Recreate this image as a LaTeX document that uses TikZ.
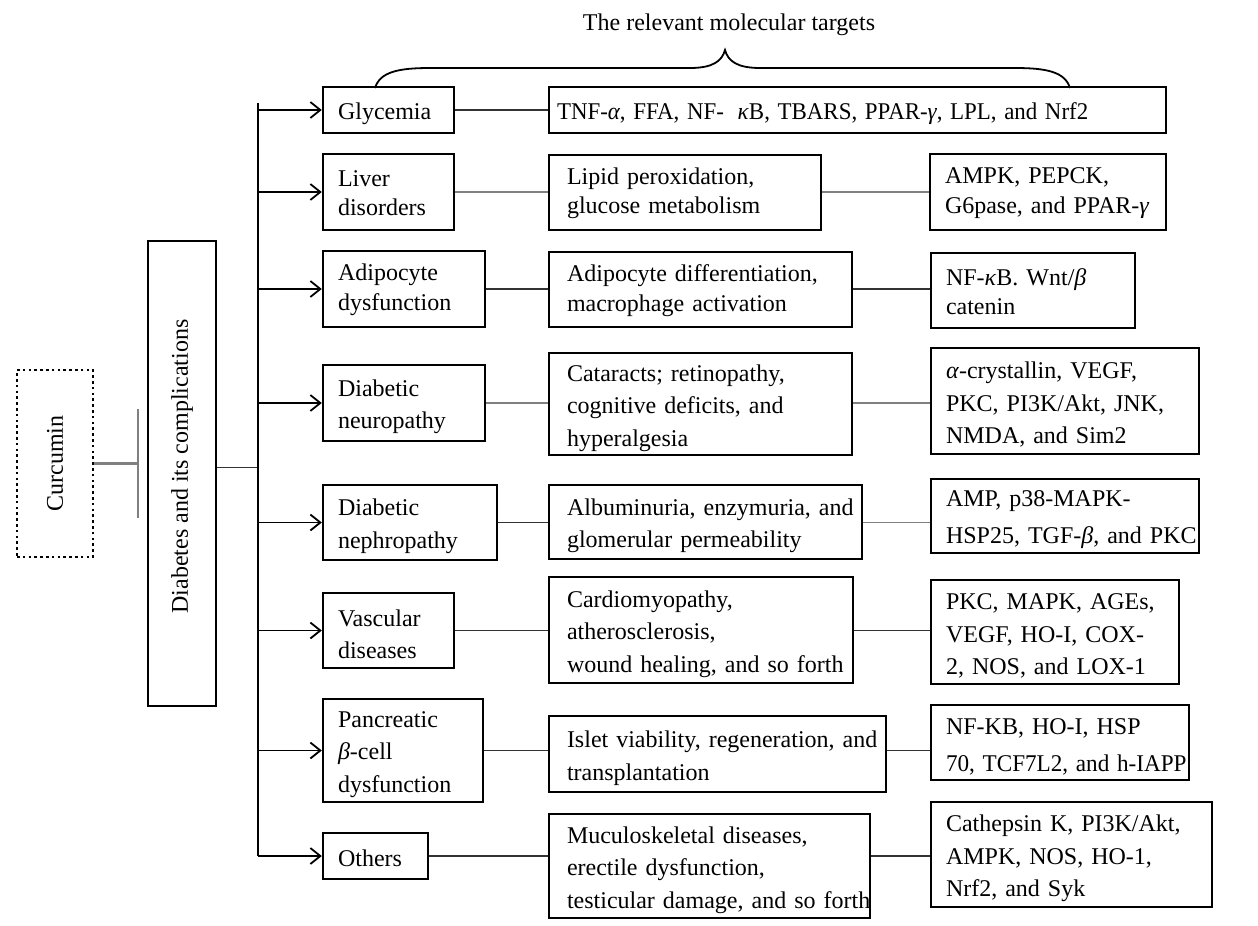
\documentclass[tikz,border=0pt]{standalone}
\usepackage{fontspec}
\setmainfont{Liberation Serif}
\usetikzlibrary{arrows.meta}
\newcommand\myl[1]{\mbox{#1}}
\newcommand\gk[1]{\textit{#1}}
\def\mydy{-2pt}
\newcommand\mybox[7]{%
  \pgfmathsetmacro\mybw{(#4-#2)*0.5}%
  \pgfmathsetmacro\mybh{(#5-#3)*0.5}%
  \pgfmathsetmacro\mytw{\mybw-2*#6}%
  \node[boxframe, minimum width=\mybw pt, minimum height=\mybh pt] (#1) at ({(#2+#4)/2},{(#3+#5)/2}) {};
  \node[boxtext, inner xsep=#6pt, text width=\mytw pt] (#1-t) at ([yshift=\mydy]#1.center) {#7};}
\begin{document}
\begin{tikzpicture}[x=0.5pt,y=-0.5pt,
  boxframe/.style={draw=black, line width=1.2pt, inner sep=0pt},
  boxtext/.style={align=left, inner ysep=0pt, font=\fontsize{12}{16.25}\selectfont},
  link/.style={line width=0.8pt, draw=black!80},
  glink/.style={line width=0.9pt, draw=black!50},
  arr/.style={line width=0.9pt, -{Straight Barb[length=5pt,width=8pt,line width=0.9pt]}},
]
\useasboundingbox (0,0) rectangle (1258,926);

% title and brace
\node[font=\fontsize{12}{14}\selectfont] (title) at (729,25) {The relevant molecular targets};
\draw[line width=0.9pt] (375,88) .. controls (380,72) and (398,68) .. (430,68) -- (690,68)
  .. controls (713,68) and (722,61) .. (725,50) .. controls (728,61) and (737,68) .. (760,68)
  -- (1015,68) .. controls (1047,68) and (1065,72) .. (1070,88);

% left part
\node[draw=black, line width=1.1pt, dash pattern=on 1.3pt off 1.6pt, minimum width=38pt, minimum height=93.5pt, inner sep=0pt, font=\fontsize{12}{14}\selectfont] (cur) at (55,463.5) {\rotatebox{90}{Curcumin}};
\node[draw=black, line width=1.2pt, minimum width=34pt, minimum height=232.5pt, inner sep=0pt, font=\fontsize{12}{14}\selectfont] (dia) at (182,473.5) {\rotatebox{90}{\hspace*{7pt}Diabetes and its complications}};
\draw[line width=1.1pt, draw=black!50, -{Bar[width=54.5pt]}] (cur.east) -- ++(45,0);
\coordinate (tk) at (258,0);

% column 1
\mybox{g1}{323}{87}{454}{133}{7.5}{\myl{Glycemia}}
\def\mydy{-0.5pt}
\mybox{l1}{323}{154}{454}{230}{7.5}{\myl{Liver}\\[-1.5pt]\myl{disorders}}
\mybox{a1}{323}{251}{485}{327}{7.5}{\myl{Adipocyte}\\[-1.5pt]\myl{dysfunction}}
\def\mydy{-2pt}
\mybox{n1}{323}{365}{485}{441}{7.5}{\myl{Diabetic}\\\myl{neuropathy}}
\mybox{p1}{323}{485}{497}{560}{7.5}{\myl{Diabetic}\\\myl{nephropathy}}
\mybox{v1}{323}{593}{454}{668}{7.5}{\myl{Vascular}\\\myl{diseases}}
\mybox{b1}{323}{699}{483}{802}{7.5}{\myl{Pancreatic}\\\myl{\gk{β}-cell}\\\myl{dysfunction}}
\def\mydy{-1pt}
\mybox{o1}{323}{833}{428}{879}{7.5}{\myl{Others}}
\def\mydy{-2pt}

% column 2
\mybox{g2}{549}{87}{1166}{133}{4}{\myl{\scalebox{0.955}[1]{TNF-\gk{α}, FFA, NF-\hspace{0.6em}\gk{κ}B, TBARS, PPAR-\gk{γ}, LPL, and Nrf2}}}
\def\mydy{-0.5pt}
\mybox{l2}{549}{155}{821}{230}{9}{\myl{Lipid peroxidation,}\\[-1.5pt]\myl{glucose metabolism}}
\mybox{a2}{549}{252}{852}{327}{9}{\myl{Adipocyte differentiation,}\\[-1.5pt]\myl{macrophage activation}}
\def\mydy{-2pt}
\mybox{n2}{549}{353}{852}{455}{9}{\myl{Cataracts; retinopathy,}\\\myl{cognitive deficits, and}\\\myl{hyperalgesia}}
\mybox{p2}{549}{485}{862}{559}{9}{\myl{Albuminuria, enzymuria, and}\\\myl{glomerular permeability}}
\mybox{v2}{549}{577}{853}{683}{9}{\myl{Cardiomyopathy,}\\\myl{atherosclerosis,}\\\myl{wound healing, and so forth}}
\mybox{b2}{549}{716}{886}{792}{9}{\myl{Islet viability, regeneration, and}\\\myl{transplantation}}
\mybox{o2}{549}{814}{870}{918}{9}{\myl{Muculoskeletal diseases,}\\\myl{erectile dysfunction,}\\\myl{testicular damage, and so forth}}

% column 3
\def\mydy{-0.5pt}
\mybox{l3}{930}{154}{1166}{230}{7.5}{\myl{AMPK, PEPCK,}\\[-1.5pt]\myl{G6pase, and PPAR-\gk{γ}}}
\mybox{a3}{931}{253}{1135}{328}{7.5}{\myl{NF-\gk{κ}B. Wnt/\gk{β}}\\[-1.5pt]\myl{catenin}}
\def\mydy{-2pt}
\mybox{n3}{931}{348}{1199}{454}{7.5}{\myl{\gk{α}-crystallin, VEGF,}\\\myl{PKC, PI3K/Akt, JNK,}\\\myl{NMDA, and Sim2}}
\mybox{p3}{931}{479}{1199}{553}{7.5}{\myl{AMP, p38-MAPK-}\\[2.25pt]\myl{HSP25, TGF-\gk{β}, and PKC}}
\mybox{v3}{931}{580}{1179}{684}{7.5}{\myl{PKC, MAPK, AGEs,}\\\myl{VEGF, HO-I, COX-}\\\myl{2, NOS, and LOX-1}}
\mybox{b3}{931}{705}{1189}{780}{7.5}{\myl{NF-KB, HO-I, HSP}\\[2.25pt]\myl{\scalebox{0.965}[1]{70, TCF7L2, and h-IAPP}}}
\mybox{o3}{931}{802}{1212}{907}{7.5}{\myl{Cathepsin K, PI3K/Akt,}\\\myl{AMPK, NOS, HO-1,}\\\myl{Nrf2, and Syk}}

% trunk and arrows
\draw[link] ([yshift=3pt]dia.east) -- ([yshift=3pt]dia.east -| tk);
\draw[line width=1pt] ([yshift=3.5pt]g1.west -| tk) -- (o1.west -| tk);
\foreach \n in {g1,l1,a1,n1,p1,v1,b1,o1}
  \draw[arr] (\n.west -| tk) -- (\n.west);

% row connectors
\draw[link] (g1.east) -- (g1.east -| g2.west);
\draw[glink] (l1.east) -- (l1.east -| l2.west);
\draw[glink] (l1.east -| l2.east) -- (l1.east -| l3.west);
\draw[link] (a1.east) -- (a1.east -| a2.west);
\draw[link] (a1.east -| a2.east) -- (a1.east -| a3.west);
\draw[glink] (n1.east) -- (n1.east -| n2.west);
\draw[glink] (n1.east -| n2.east) -- (n1.east -| n3.west);
\draw[link] (p1.east) -- (p1.east -| p2.west);
\draw[glink] (p1.east -| p2.east) -- (p1.east -| p3.west);
\draw[link] (v1.east) -- (v1.east -| v2.west);
\draw[link] (v1.east -| v2.east) -- (v1.east -| v3.west);
\draw[link] (b1.east) -- (b1.east -| b2.west);
\draw[link] (b1.east -| b2.east) -- (b1.east -| b3.west);
\draw[link] (o1.east) -- (o1.east -| o2.west);
\draw[link] (o1.east -| o2.east) -- (o1.east -| o3.west);
\end{tikzpicture}
\end{document}
